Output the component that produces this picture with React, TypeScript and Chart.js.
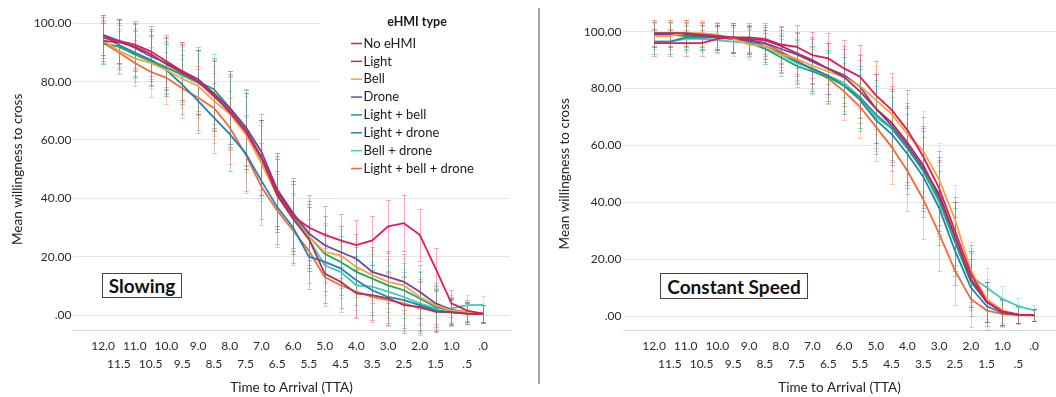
import { useEffect, useRef } from 'react';
import { Chart, registerables } from 'chart.js';

Chart.register(...registerables);

// ---------- data ----------
const TTA = [12, 11.5, 11, 10.5, 10, 9.5, 9, 8.5, 8, 7.5, 7, 6.5, 6, 5.5, 5, 4.5, 4, 3.5, 3, 2.5, 2, 1.5, 1, 0.5, 0];
const TTA_LABELS = ['12.0', '11.5', '11.0', '10.5', '10.0', '9.5', '9.0', '8.5', '8.0', '7.5', '7.0', '6.5', '6.0', '5.5', '5.0', '4.5', '4.0', '3.5', '3.0', '2.5', '2.0', '1.5', '1.0', '.5', '.0'];
const Y_TICKS = [0, 20, 40, 60, 80, 100];
const Y_TICK_LABELS = ['.00', '20.00', '40.00', '60.00', '80.00', '100.00'];

const SERIES_NAMES = ['No eHMI', 'Light', 'Bell', 'Drone', 'Light + bell', 'Light + drone', 'Bell + drone', 'Light + bell + drone'];
const SERIES_COLORS = ['#e3195a', '#a8325c', '#f4a43c', '#7b3f9e', '#1aa86e', '#2482b4', '#44c9b2', '#f36a3c'];

// Slowing condition: mean willingness to cross
const SLOW_NO_EHMI = [95, 94, 92.7, 90.4, 87, 83.6, 80, 75, 70, 63, 54, 42, 34, 30, 27.5, 25.6, 24, 25.6, 30.4, 31.5, 27.5, 16, 4, 1.5, 0.5];
const SLOW_LIGHT = [94, 93.5, 92, 89.5, 86, 83, 80, 75.5, 69.5, 63, 54, 41, 33, 26, 14.2, 11.4, 7.4, 6.8, 5.7, 3.4, 2.8, 1.1, 1, 0.5, 0.3];
const SLOW_BELL = [94, 90.6, 88, 86.4, 84, 81, 78.5, 73.4, 69, 62, 52, 41, 33, 27, 21.6, 20.5, 16.5, 13.7, 11.4, 10.2, 6.2, 3.4, 1.5, 1, 0.5];
const SLOW_DRONE = [96, 94, 91.6, 88.7, 86.4, 83.6, 80.8, 76, 71, 64.5, 56, 43, 35, 28, 23.9, 21.6, 19.3, 14.8, 13.1, 11.4, 8, 4, 1.8, 1, 0.5];
const SLOW_LIGHT_BELL = [93, 92, 89.3, 87, 84.7, 82.5, 80, 77.4, 71, 64, 54, 43, 34, 27, 21, 18.2, 14.8, 12.5, 10.2, 8.5, 5.7, 2.8, 1.5, 1, 0.5];
const SLOW_LIGHT_DRONE = [96, 92.5, 90, 87.5, 84, 79, 73.4, 67.7, 62, 55.5, 46, 37, 30, 20, 18.2, 16, 11.9, 8.5, 6.2, 5.1, 3.4, 1.7, 1, 0.5, 0.3];
const SLOW_BELL_DRONE = [93, 92, 89.5, 87.5, 85, 82, 79.5, 76, 70, 63, 53, 41, 33, 26, 17, 14.8, 10.2, 9.7, 8, 6.2, 4, 2.3, 2.3, 3.4, 3.5];
const SLOW_ALL = [93.3, 90, 86.4, 83.4, 81.3, 77.7, 74.5, 71, 64.3, 55, 44, 35.8, 29, 22, 13, 10.2, 8, 6.2, 5.1, 4, 2.3, 1.5, 0.8, 0.5, 0.3];
const SLOW_CI = [7, 7.5, 8, 8.5, 9, 10, 11, 12, 12.5, 13, 13, 12.5, 12, 11, 10, 9, 8.5, 8.5, 9, 9.5, 9, 7, 4.5, 3.5, 3];

// Constant speed condition
const CONST_NO_EHMI = [96, 96, 96, 96, 97.5, 98, 98, 97.5, 95.5, 94.7, 91.8, 90.6, 87.1, 84.2, 77.7, 72.5, 65.4, 56, 45, 30, 15, 5, 1.5, 0.5, 0.3];
const CONST_LIGHT = [99.5, 99.5, 99.5, 99, 98.5, 98, 97.5, 97, 95, 92.5, 90, 87, 84, 79, 73, 68, 61, 53, 42, 28, 13, 5, 1.5, 0.5, 0.3];
const CONST_BELL = [98.5, 98.5, 99.5, 99.5, 99, 97.5, 95.5, 95, 92, 90.5, 88, 86, 84, 81, 76, 71, 64, 58, 48, 34, 16, 6, 2, 0.5, 0.3];
const CONST_DRONE = [99, 99, 99, 98.5, 98, 97.5, 97, 96, 94, 92, 89.5, 87, 84.8, 80.7, 73, 67, 60, 52, 43, 28, 13, 5, 1.5, 0.5, 0.3];
const CONST_LIGHT_BELL = [99, 99, 98.5, 98, 98, 97.5, 96.5, 94, 91, 88, 86, 84, 81, 77, 71, 66, 59, 51, 41, 26, 12, 5, 1.5, 0.5, 0.3];
const CONST_LIGHT_DRONE = [96.5, 96.5, 98, 98, 98, 97.5, 97, 95, 92.5, 89.5, 87, 84.5, 81, 76, 69, 64, 57, 49, 38, 23, 10, 3.5, 1, 0.4, 0.3];
const CONST_BELL_DRONE = [96.5, 96.5, 97.5, 97.5, 97, 96.5, 96, 94, 92, 89, 87, 84.5, 82, 77, 70, 66, 59, 51, 40, 26, 14, 10, 6, 3.5, 2];
const CONST_ALL = [99.5, 99.5, 99.5, 99, 98.5, 97.5, 97, 96, 93, 90, 86.5, 83.5, 79, 73.6, 66.6, 59.5, 51, 41, 29, 16, 6, 2, 0.7, 0.3, 0.2];
const CONST_CI = [4.5, 4.5, 4.5, 4.5, 4.5, 5, 5, 5.5, 6.5, 7.5, 8, 9, 10, 11, 12, 13, 14, 14, 13, 12, 10, 7, 4.5, 3, 2];

const SLOW_SERIES = [SLOW_NO_EHMI, SLOW_LIGHT, SLOW_BELL, SLOW_DRONE, SLOW_LIGHT_BELL, SLOW_LIGHT_DRONE, SLOW_BELL_DRONE, SLOW_ALL];
const CONST_SERIES = [CONST_NO_EHMI, CONST_LIGHT, CONST_BELL, CONST_DRONE, CONST_LIGHT_BELL, CONST_LIGHT_DRONE, CONST_BELL_DRONE, CONST_ALL];

const FONT = 'Lato, "Open Sans", sans-serif';

function rgba(hex: string, a: number) {
  const n = parseInt(hex.slice(1), 16);
  return `rgba(${(n >> 16) & 255},${(n >> 8) & 255},${n & 255},${a})`;
}

const errorBarPlugin = {
  id: 'errorBars',
  beforeDatasetsDraw(chart: any) {
    const { ctx } = chart;
    const xs = chart.scales.x;
    const ys = chart.scales.y;
    ctx.save();
    ctx.lineWidth = 1;
    chart.data.datasets.forEach((ds: any) => {
      ctx.strokeStyle = rgba(ds.borderColor, 0.36);
      ds.data.forEach((p: any, j: number) => {
        const hw = ds.ci[j];
        const px = Math.round(xs.getPixelForValue(p.x)) + 0.5;
        const top = Math.round(ys.getPixelForValue(p.y + hw)) + 0.5;
        const bot = Math.round(ys.getPixelForValue(p.y - hw)) + 0.5;
        ctx.beginPath();
        ctx.moveTo(px, top);
        ctx.lineTo(px, bot);
        ctx.moveTo(px - 2.5, top);
        ctx.lineTo(px + 2.5, top);
        ctx.moveTo(px - 2.5, bot);
        ctx.lineTo(px + 2.5, bot);
        ctx.stroke();
      });
    });
    ctx.restore();
  },
};

const legendPlugin = {
  id: 'ehmiLegend',
  beforeDatasetsDraw(chart: any) {
    const { ctx, chartArea } = chart;
    ctx.save();
    ctx.fillStyle = '#ffffff';
    ctx.fillRect(320, chartArea.top, chartArea.right - 320, 184 - chartArea.top);
    ctx.restore();
  },
  afterDraw(chart: any) {
    const { ctx } = chart;
    ctx.save();
    ctx.fillStyle = '#1a1a1a';
    ctx.font = `bold 12.5px ${FONT}`;
    ctx.textAlign = 'center';
    ctx.textBaseline = 'middle';
    ctx.fillText('eHMI type', 417, 22);
    ctx.font = `13px ${FONT}`;
    ctx.textAlign = 'left';
    chart.data.datasets.forEach((ds: any, i: number) => {
      const y = 43 + i * 17.86;
      ctx.strokeStyle = ds.borderColor;
      ctx.lineWidth = 1.5;
      ctx.beginPath();
      ctx.moveTo(351, y + 0.5);
      ctx.lineTo(362, y + 0.5);
      ctx.stroke();
      ctx.fillStyle = '#1a1a1a';
      ctx.fillText(ds.label, 363.5, y + 0.5);
    });
    ctx.restore();
  },
};

interface PanelCfg {
  series: number[][];
  ci: number[];
  xMin: number;
  xMax: number;
  yMin: number;
  padTop: number;
  padRight: number;
  yWidth: number;
  yTitlePad: number;
  legend: boolean;
}

function makeChart(canvas: HTMLCanvasElement, cfg: PanelCfg) {
  const datasets = SERIES_NAMES.map((name, i) => ({
    label: name,
    data: TTA.map((t, j) => ({ x: t, y: cfg.series[i][j] })),
    borderColor: SERIES_COLORS[i],
    backgroundColor: SERIES_COLORS[i],
    borderWidth: 1.8,
    pointRadius: 0,
    tension: 0,
    ci: cfg.ci,
  }));
  return new Chart(canvas, {
    type: 'line',
    data: { datasets } as any,
    options: {
      responsive: false,
      animation: false,
      devicePixelRatio: 1,
      layout: { padding: { left: 0, right: cfg.padRight, top: cfg.padTop, bottom: 0 } },
      plugins: { legend: { display: false }, tooltip: { enabled: false } },
      scales: {
        x: {
          type: 'linear',
          min: cfg.xMin,
          max: cfg.xMax,
          reverse: true,
          afterBuildTicks: (s: any) => {
            s.ticks = TTA.map((v) => ({ value: v }));
          },
          afterFit: (s: any) => {
            s.height = 67;
          },
          grid: { display: false, drawTicks: false },
          border: { display: true, color: '#d4d4d4', width: 1 },
          ticks: {
            autoSkip: false,
            maxRotation: 0,
            minRotation: 0,
            padding: 6.7,
            color: '#2a2a2a',
            font: { family: FONT, size: 12, lineHeight: 1.55 },
            callback: (_v: any, i: number) => (i % 2 === 0 ? [TTA_LABELS[i], ''] : ['', TTA_LABELS[i]]),
          },
          title: {
            display: true,
            text: 'Time to Arrival (TTA)',
            color: '#222',
            font: { family: FONT, size: 13.5 },
            padding: { top: 0, bottom: 1 },
          },
        },
        y: {
          type: 'linear',
          min: cfg.yMin,
          max: 105,
          afterBuildTicks: (s: any) => {
            s.ticks = Y_TICKS.map((v) => ({ value: v }));
          },
          afterFit: (s: any) => {
            s.width = cfg.yWidth;
          },
          grid: { color: '#e6e6e6', drawTicks: false },
          border: { display: false },
          ticks: {
            padding: 1.5,
            color: '#2a2a2a',
            font: { family: FONT, size: 12 },
            callback: (_v: any, i: number) => Y_TICK_LABELS[i],
          },
          title: {
            display: true,
            text: 'Mean willingness to cross',
            color: '#222',
            font: { family: FONT, size: 13.5 },
            padding: { top: cfg.yTitlePad, bottom: 0 },
          },
        },
      },
    } as any,
    plugins: cfg.legend ? [legendPlugin, errorBarPlugin] : [errorBarPlugin],
  });
}

const boxStyle: any = {
  position: 'absolute',
  boxSizing: 'border-box',
  border: '1px solid #444',
  background: '#fff',
  fontFamily: FONT,
  fontWeight: 700,
  fontSize: '19px',
  color: '#111',
  display: 'flex',
  alignItems: 'center',
  justifyContent: 'center',
  lineHeight: 1,
};

export default function App() {
  const leftRef = useRef<HTMLCanvasElement>(null);
  const rightRef = useRef<HTMLCanvasElement>(null);

  useEffect(() => {
    const left = makeChart(leftRef.current!, {
      series: SLOW_SERIES,
      ci: SLOW_CI,
      xMin: -0.85,
      xMax: 12.95,
      yMin: -5.12,
      padTop: 7.35,
      padRight: 25,
      yWidth: 73,
      yTitlePad: 9.5,
      legend: true,
    });
    const right = makeChart(rightRef.current!, {
      series: CONST_SERIES,
      ci: CONST_CI,
      xMin: -0.69,
      xMax: 12.98,
      yMin: -4.92,
      padTop: 17.5,
      padRight: 0,
      yWidth: 83,
      yTitlePad: 16.8,
      legend: false,
    });
    return () => {
      left.destroy();
      right.destroy();
    };
  }, []);

  return (
    <div style={{ position: 'fixed', left: 0, top: 0, width: 1056, height: 397, background: '#fff', overflow: 'hidden' }}>
      <canvas ref={leftRef} width={535} height={397} style={{ position: 'absolute', left: 0, top: 0, width: 535, height: 397 }} />
      <canvas ref={rightRef} width={516} height={397} style={{ position: 'absolute', left: 540, top: 0, width: 516, height: 397 }} />
      <div style={{ position: 'absolute', left: 538, top: 8, width: 2, height: 376, background: '#a3a3a3' }} />
      <div style={{ ...boxStyle, left: 102, top: 273, width: 80, height: 25 }}>Slowing</div>
      <div style={{ ...boxStyle, left: 660, top: 273, width: 148, height: 26 }}>Constant Speed</div>
    </div>
  );
}
